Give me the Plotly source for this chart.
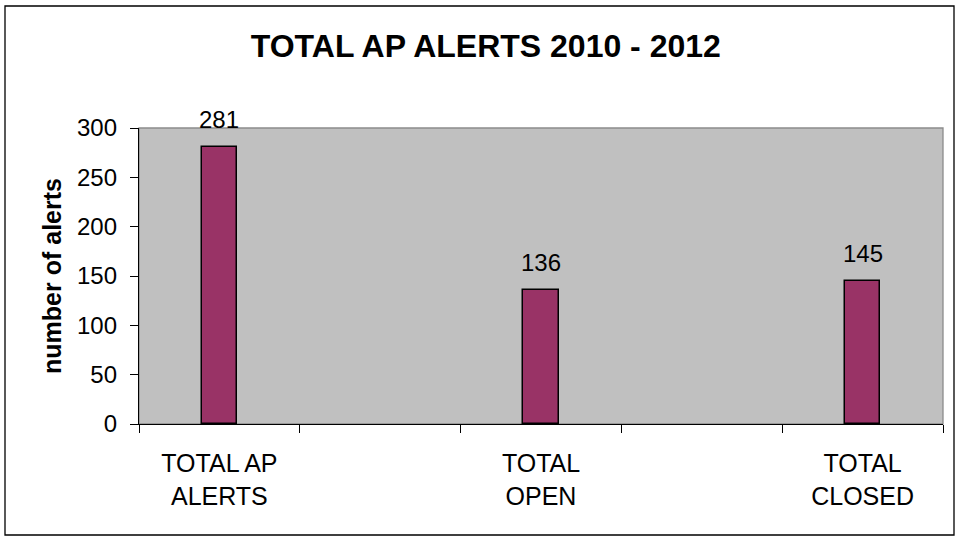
import plotly.graph_objects as go

# Alert totals; the blank categories keep the empty slots between bars
categories = ["TOTAL AP<br>ALERTS", " ", "TOTAL<br>OPEN", "  ", "TOTAL<br>CLOSED"]
alerts = [281, None, 136, None, 145]
y_ticks = [0, 50, 100, 150, 200, 250, 300]

FONT = "Liberation Sans, Arial, sans-serif"
W, H = 962, 541
ML, MR, MT, MB = 139, 19, 128, 117
PW, PH = W - ML - MR, H - MT - MB

fig = go.Figure()
fig.add_trace(go.Bar(
    x=categories,
    y=alerts,
    width=0.218,
    marker=dict(color="#993366", line=dict(color="black", width=1.5)),
    hoverinfo="x+y",
))

# value labels above each bar
annotations = []
for cat, val in zip(categories, alerts):
    if val is None:
        continue
    annotations.append(dict(
        x=cat, y=val, xref="x", yref="y",
        text=str(val), showarrow=False,
        yanchor="bottom", yshift=12,
        font=dict(family=FONT, size=24, color="black"),
    ))


def px_to_paper_x(px):
    return (px - ML) / PW


def px_to_paper_y(py):
    return (H - MB - py) / PH


shapes = [
    # gray frame around the plotting area
    dict(type="rect", xref="paper", yref="paper", x0=0, x1=1, y0=0, y1=1,
         line=dict(color="#8c8c8c", width=1.3), fillcolor="rgba(0,0,0,0)", layer="below"),
    # outer chart border
    dict(type="rect", xref="paper", yref="paper",
         x0=px_to_paper_x(5), x1=px_to_paper_x(954),
         y0=px_to_paper_y(535), y1=px_to_paper_y(6),
         line=dict(color="black", width=1.3), fillcolor="rgba(0,0,0,0)", layer="below"),
]

fig.update_layout(
    width=W, height=H,
    margin=dict(l=ML, r=MR, t=MT, b=MB, pad=0),
    paper_bgcolor="white",
    plot_bgcolor="#c0c0c0",
    showlegend=False,
    bargap=0,
    title=dict(
        text="<b>TOTAL AP ALERTS 2010 - 2012</b>",
        x=0.505, xanchor="center", xref="container",
        y=1 - 46 / H, yanchor="middle", yref="container",
        font=dict(family=FONT, size=32, color="black"),
    ),
    xaxis=dict(
        type="category",
        categoryorder="array", categoryarray=categories,
        tickson="boundaries",
        ticks="outside", ticklen=8, tickwidth=1.3, tickcolor="black",
        showline=True, linecolor="black", linewidth=1.3,
        showgrid=False, zeroline=False,
        tickfont=dict(family=FONT, size=25, color="black"),
        ticklabelstandoff=17,
    ),
    yaxis=dict(
        range=[0, 300],
        tickvals=y_ticks,
        ticks="outside", ticklen=8, tickwidth=1.3, tickcolor="black",
        showline=True, linecolor="black", linewidth=1.3,
        showgrid=False, zeroline=False,
        tickfont=dict(family=FONT, size=24, color="black"),
        ticklabelstandoff=8,
        title=dict(
            text="<b>number of alerts</b>",
            font=dict(family=FONT, size=25, color="black"),
            standoff=8,
        ),
    ),
    annotations=annotations,
    shapes=shapes,
)

fig.write_html("out.html")
